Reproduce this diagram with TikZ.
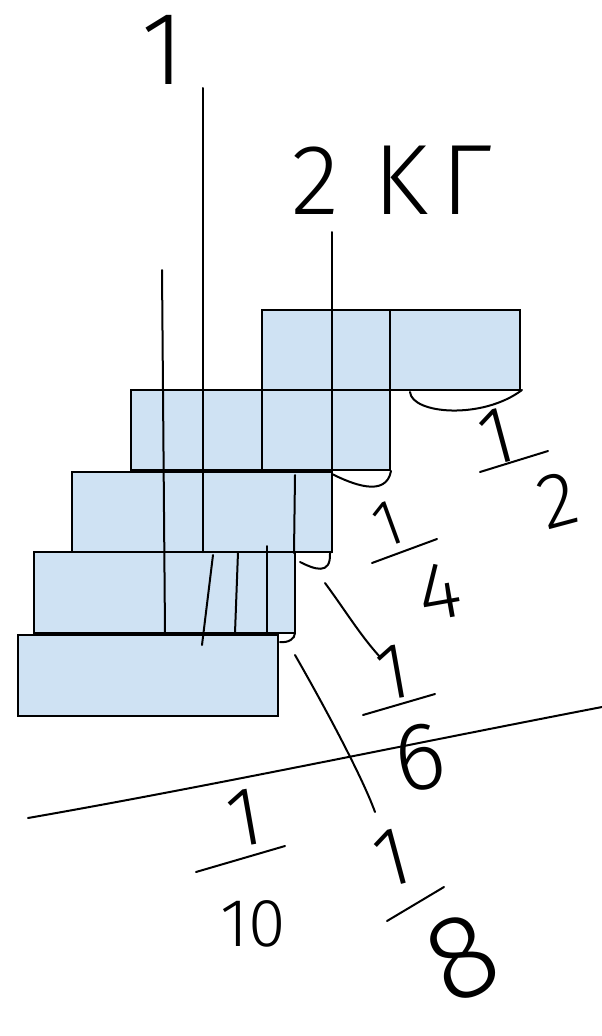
\documentclass[tikz,border=0pt]{standalone}
\usepackage{fontspec}
\newfontfamily\hwfont{Fira Sans Light}
\newcommand\hwf[1]{\hwfont\fontsize{#1}{#1}\selectfont}
\definecolor{boxblue}{HTML}{CFE2F3}
\tikzset{
  blk/.style={rectangle, draw=black, fill=boxblue, line width=1.8pt, minimum height=80pt, inner sep=0pt, outer sep=0pt, anchor=north west},
  pen/.style={line width=2pt, line cap=round, black},
  hw/.style={inner sep=0pt, text=black},
}
\begin{document}
\begin{tikzpicture}[x=1pt,y=-1pt]
\useasboundingbox[fill=white] (0,0) rectangle (602,1036);
% boxes
\node[blk, minimum width=128pt] (r1a) at (262,310) {};
\node[blk, minimum width=130pt] (r1b) at (390,310) {};
\node[blk, minimum width=259pt] (r2) at (131,390) {};
\node[blk, minimum width=260pt] (r3) at (72,472) {};
\node[blk, minimum width=261pt, minimum height=81pt] (r4) at (34,552) {};
\node[blk, minimum width=260pt, minimum height=81pt] (r5) at (18,635) {};
% division lines
\draw[pen] (r1a.south west) -- (r1a.south west |- r2.south);
\draw[pen] (203,88) -- (203,552);
\draw[pen] (162,270) -- (165,633);
\draw[pen] (332,232) -- (332,470);
\draw[pen] (295,475) -- (294,553);
\draw[pen] (213,555) -- (202,645);
\draw[pen] (238,552) -- (235,633);
\draw[pen] (267,546) -- (267,633);
% braces
\draw[pen] (410,392) .. controls (412,414) and (482,420) .. (522,390);
\draw[pen] (332,474) .. controls (352,484) and (386,498) .. (391,471);
\draw[pen] (300,562) .. controls (314,569) and (331,576) .. (330,553);
\draw[pen] (280,642) .. controls (288,643) and (295,639) .. (295,633);
% leaders
\draw[pen] (325,583) .. controls (345,610) and (360,635) .. (380,657);
\draw[pen] (295,655) .. controls (322,702) and (362,776) .. (375,812);
% long line
\draw[pen] (28,818) .. controls (200,788) and (400,746) .. (602,707);
% top texts
\node[hw, font=\hwf{104}] (top1) at (163,50) {1};
\node[hw, font=\hwf{100}] (kg) at (392,180) {2\hspace{34pt}K\hspace{14pt}Г};
% 1/2
\node[hw, font=\hwf{82}, rotate=15] (h1) at (497,437) {1};
\draw[pen] (480,472) -- (548,451);
\node[hw, font=\hwf{78}, rotate=15] (h2) at (558,500) {2};
% 1/4
\node[hw, font=\hwf{66}, rotate=20] (q1) at (388,524) {1};
\draw[pen] (372,563) -- (437,539);
\node[hw, font=\hwf{82}, rotate=10] (q4) at (440,592) {4};
% 1/6
\node[hw, font=\hwf{80}, rotate=10] (s1) at (393,672) {1};
\draw[pen] (363,715) -- (435,694);
\node[hw, font=\hwf{96}, rotate=10] (s6) at (420,758) {6};
% 1/8
\node[hw, font=\hwf{84}, rotate=15] (e1) at (392,858) {1};
\draw[pen] (387,921) -- (444,887);
\node[hw, font=\hwf{120}, rotate=25] (e8) at (462,958) {8};
% 1/10
\node[hw, font=\hwf{84}, rotate=10] (t1) at (245,818) {1};
\draw[pen] (196,872) -- (285,846);
\node[hw, font=\hwf{68}] (t10) at (253,924) {10};
\end{tikzpicture}
\end{document}
